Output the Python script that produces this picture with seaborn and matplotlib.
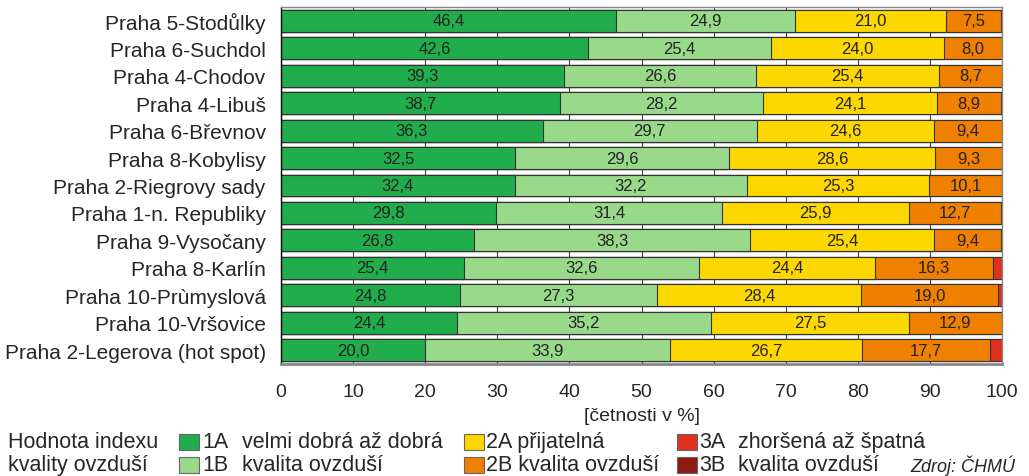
import pandas as pd
import seaborn as sns
import matplotlib.pyplot as plt
from matplotlib.patches import Rectangle

sns.set_style("white")
plt.rcParams['font.family'] = ['Liberation Sans', 'DejaVu Sans']

stations = ['Praha 5-Stodůlky', 'Praha 6-Suchdol', 'Praha 4-Chodov', 'Praha 4-Libuš',
            'Praha 6-Břevnov', 'Praha 8-Kobylisy', 'Praha 2-Riegrovy sady',
            'Praha 1-n. Republiky', 'Praha 9-Vysočany', 'Praha 8-Karlín',
            'Praha 10-Prùmyslová', 'Praha 10-Vršovice', 'Praha 2-Legerova (hot spot)']

v1a = [46.4, 42.6, 39.3, 38.7, 36.3, 32.5, 32.4, 29.8, 26.8, 25.4, 24.8, 24.4, 20.0]
v1b = [24.9, 25.4, 26.6, 28.2, 29.7, 29.6, 32.2, 31.4, 38.3, 32.6, 27.3, 35.2, 33.9]
v2a = [21.0, 24.0, 25.4, 24.1, 24.6, 28.6, 25.3, 25.9, 25.4, 24.4, 28.4, 27.5, 26.7]
v2b = [7.5, 8.0, 8.7, 8.9, 9.4, 9.3, 10.1, 12.7, 9.4, 16.3, 19.0, 12.9, 17.7]
v3a = [0.2, 0.0, 0.0, 0.1, 0.0, 0.0, 0.0, 0.2, 0.1, 1.3, 0.5, 0.0, 1.7]
v3b = [0.0] * 13

series = ['1A', '1B', '2A', '2B', '3A', '3B']
colors = ['#21ad4b', '#98d98a', '#fdd800', '#f08000', '#e0301e', '#8b1a10']

df = pd.DataFrame({'station': stations, '1A': v1a, '1B': v1b, '2A': v2a,
                   '2B': v2b, '3A': v3a, '3B': v3b})
cum = df[series].cumsum(axis=1)

fig = plt.figure(figsize=(10.29, 4.77), dpi=100)
ax = fig.add_axes([281 / 1029, 1 - 365 / 477, 721 / 1029, 357 / 477])

ax.grid(axis='x', color='#444444', linewidth=0.8)
ax.set_axisbelow(True)

# stacked bars: draw cumulative totals from the right-most series backwards
for i in range(len(series) - 1, -1, -1):
    d = pd.DataFrame({'station': stations, 'val': cum[series[i]]})
    sns.barplot(data=d, x='val', y='station', orient='h', color=colors[i],
                edgecolor='#333333', linewidth=0.8, width=0.8, ax=ax,
                saturation=1)

for i, s in enumerate(series):
    for j in range(len(stations)):
        v = df[s][j]
        if v >= 5:
            left = cum[s][j] - v
            ax.text(left + v / 2, j, f'{v:.1f}'.replace('.', ','), ha='center',
                    va='center', fontsize=12, color='#222222')

ax.set_xlim(0, 100)
ax.set_ylim(12.5, -0.5)
ax.set_xticks(range(0, 101, 10))
ax.set_yticks(range(13))
ax.set_yticklabels(stations)
ax.set_yticks([k - 0.5 for k in range(14)], minor=True)
ax.tick_params(axis='y', which='major', length=0, labelsize=15, pad=11)
ax.tick_params(axis='y', which='minor', length=9, width=1, color='black')
ax.tick_params(axis='x', which='major', length=6, width=1, color='black',
               labelsize=14, direction='out', pad=8)
ax.set_ylabel('')
ax.set_xlabel('[četnosti v %]', fontsize=14, labelpad=5)

for side in ['top', 'right']:
    ax.spines[side].set_color('#888888')
    ax.spines[side].set_linewidth(1)
ax.spines['left'].set_color('black')
ax.spines['left'].set_linewidth(1)
ax.spines['bottom'].set_color('#888888')
ax.spines['bottom'].set_linewidth(2)

# legend built by hand
W, H = 1029, 477
def ftext(x, y, s, size=15.5, **kw):
    fig.text(x / W, 1 - y / H, s, va='center', fontsize=size, **kw)

def fbox(x, y, c):
    fig.patches.append(Rectangle((x / W, 1 - (y + 16) / H), 20 / W, 16 / H,
                                 transform=fig.transFigure, facecolor=c,
                                 edgecolor='#666666', linewidth=0.8))

r1, r2 = 443, 466
ftext(8, r1, 'Hodnota indexu')
ftext(8, r2, 'kvality ovzduší')
fbox(179, r1 - 8, colors[0])
fbox(179, r2 - 8, colors[1])
ftext(202, r1, '1A')
ftext(202, r2, '1B')
ftext(242, r1, 'velmi dobrá až dobrá')
ftext(242, r2, 'kvalita ovzduší')
fbox(464, r1 - 8, colors[2])
fbox(464, r2 - 8, colors[3])
ftext(486, r1, '2A přijatelná')
ftext(486, r2, '2B kvalita ovzduší')
fbox(677, r1 - 8, colors[4])
fbox(677, r2 - 8, colors[5])
ftext(699, r1, '3A')
ftext(699, r2, '3B')
ftext(738, r1, 'zhoršená až špatná')
ftext(738, r2, 'kvalita ovzduší')
ftext(910, r2, 'Zdroj: ČHMÚ', size=13, style='italic')

fig.savefig('out.png', dpi=100)
